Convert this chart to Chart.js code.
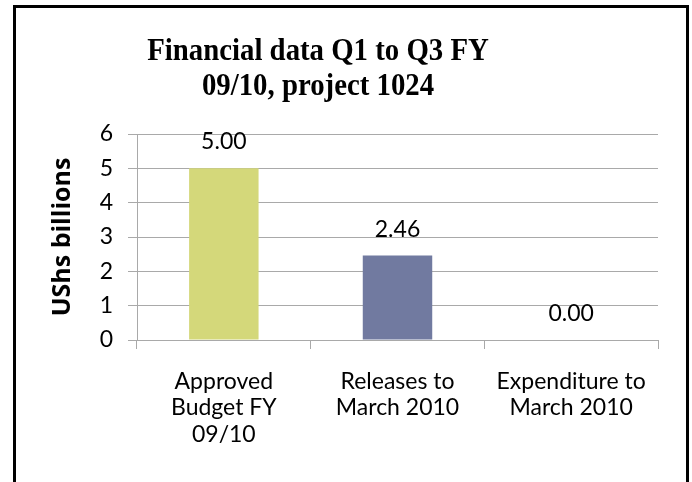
<!DOCTYPE html>
<html>
<head>
<meta charset="utf-8">
<script src="https://cdn.jsdelivr.net/npm/chart.js@4.4.1/dist/chart.umd.min.js"></script>
<style>
  html, body { margin: 0; padding: 0; background: #fff; }
  #wrap { position: relative; width: 692px; height: 482px; overflow: hidden; }
  #frame { position: absolute; left: 13px; top: 5px; width: 670px; height: 500px;
           border: 3px solid #000; border-bottom: none; pointer-events: none; }
  #chart { position: absolute; left: 0; top: 0; }
</style>
</head>
<body>
<div id="wrap">
  <canvas id="chart" width="692" height="482"></canvas>
  <div id="frame"></div>
</div>
<script>
// chart data
const categories = [
    ['Approved', 'Budget FY', '09/10'],
    ['Releases to', 'March 2010'],
    ['Expenditure to', 'March 2010']
];
const values = [5.00, 2.46, 0.00];
const barColors = ['#d4d87a', '#717aa0'];
const titleLines = ['Financial data Q1 to Q3 FY', '09/10, project 1024'];
const axisTitle = 'UShs billions';

const labelFont = { family: 'Lato', size: 23, lineHeight: 1.15 };
const gridColor = '#a9a9a9';

// title drawn slightly condensed, like the original
const titlePlugin = {
    id: 'condensedTitle',
    afterDraw(chart) {
        const ctx = chart.ctx;
        ctx.save();
        ctx.fillStyle = '#000';
        ctx.font = 'bold 32px "Liberation Serif"';
        ctx.textAlign = 'center';
        ctx.textBaseline = 'alphabetic';
        titleLines.forEach(function(line, i) {
            ctx.save();
            ctx.translate(318, 60 + i * 35);
            ctx.scale(0.9, 1);
            ctx.fillText(line, 0, 0);
            ctx.restore();
        });
        ctx.restore();
    }
};

// value labels above the bars
const valueLabels = {
    id: 'valueLabels',
    afterDatasetsDraw(chart) {
        const ctx = chart.ctx;
        const meta = chart.getDatasetMeta(0);
        ctx.save();
        ctx.fillStyle = '#000';
        ctx.font = labelFont.size + 'px ' + labelFont.family;
        ctx.textAlign = 'center';
        ctx.textBaseline = 'alphabetic';
        meta.data.forEach(function(bar, i) {
            ctx.fillText(values[i].toFixed(2), bar.x, bar.y - 19);
        });
        ctx.restore();
    }
};

new Chart(document.getElementById('chart'), {
    type: 'bar',
    data: {
        labels: categories,
        datasets: [{
            data: values,
            backgroundColor: barColors,
            barPercentage: 0.8,
            categoryPercentage: 0.5
        }]
    },
    options: {
        responsive: false,
        animation: false,
        layout: {
            padding: { top: 134, right: 34, bottom: 0, left: 0 }
        },
        plugins: {
            legend: { display: false },
            title: { display: false },
            tooltip: { enabled: false }
        },
        scales: {
            x: {
                afterFit: function(scale) { scale.height = 142; },
                grid: {
                    offset: true,
                    drawOnChartArea: false,
                    tickLength: 9,
                    color: gridColor
                },
                border: { color: gridColor },
                ticks: {
                    font: labelFont,
                    color: '#000',
                    padding: 19,
                    maxRotation: 0,
                    autoSkip: false
                }
            },
            y: {
                min: 0,
                max: 6,
                afterFit: function(scale) { scale.width = 137; },
                ticks: {
                    stepSize: 1,
                    font: labelFont,
                    color: '#000',
                    padding: 15
                },
                grid: {
                    color: gridColor,
                    tickLength: 9
                },
                border: { color: gridColor },
                title: {
                    display: true,
                    text: axisTitle,
                    color: '#000',
                    font: { family: 'Open Sans', size: 25, weight: 'bold' },
                    padding: { top: 48, bottom: 0 }
                }
            }
        }
    },
    plugins: [titlePlugin, valueLabels]
});
</script>
</body>
</html>
